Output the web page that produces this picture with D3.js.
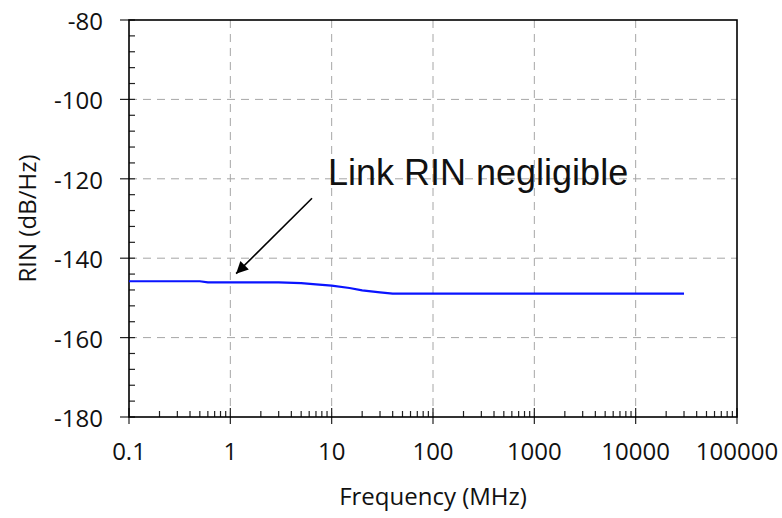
<!DOCTYPE html>
<html>
<head>
<meta charset="utf-8">
<script src="https://cdn.jsdelivr.net/npm/d3@7"></script>
<style>
  body { margin: 0; background: #fff; }
  text { font-family: "Open Sans", "Liberation Sans", sans-serif; fill: #111; }
</style>
</head>
<body>
<div id="chart"></div>
<script>
// data
const freq = [0.1, 0.5, 0.6, 3, 5, 7, 10, 15, 20, 30, 40, 30000];
const rin = [-145.8, -145.8, -146.1, -146.1, -146.3, -146.6, -146.9, -147.5, -148.1, -148.6, -148.9, -148.9];
const xTicks = [0.1, 1, 10, 100, 1000, 10000, 100000];
const yTicks = [-80, -100, -120, -140, -160, -180];
const note = { text: "Link RIN negligible", x: 9.2, y: -121.6, fromX: 6.4, fromY: -124.9, toX: 1.14, toY: -143.9 };

const width = 782;
const height = 518;
const margin = { top: 20, right: 45, bottom: 101, left: 129 };
const chartWidth = width - margin.left - margin.right;
const chartHeight = height - margin.top - margin.bottom;

const svg = d3.select("#chart").append("svg").attr("width", width).attr("height", height);

const xScale = d3.scaleLog().domain([0.1, 100000]).range([0, chartWidth]);
const yScale = d3.scaleLinear().domain([-180, -80]).range([chartHeight, 0]);

svg.append("defs").append("marker")
  .attr("id", "arrow")
  .attr("viewBox", "0 0 10 10")
  .attr("refX", 10).attr("refY", 5)
  .attr("markerWidth", 19).attr("markerHeight", 12)
  .attr("markerUnits", "userSpaceOnUse")
  .attr("orient", "auto")
  .append("path").attr("d", "M0,0L10,5L0,10z").attr("fill", "#000");

const g = svg.append("g").attr("transform", `translate(${margin.left},${margin.top})`);

// grid
g.selectAll("line.vgrid")
  .data(xTicks.slice(1, -1))
  .enter().append("line")
  .attr("class", "vgrid")
  .attr("x1", (d) => xScale(d)).attr("x2", (d) => xScale(d))
  .attr("y1", 0).attr("y2", chartHeight)
  .attr("stroke", "#a6a6a6").attr("stroke-dasharray", "8,6");

g.selectAll("line.hgrid")
  .data(yTicks.slice(1, -1))
  .enter().append("line")
  .attr("class", "hgrid")
  .attr("x1", 0).attr("x2", chartWidth)
  .attr("y1", (d) => yScale(d)).attr("y2", (d) => yScale(d))
  .attr("stroke", "#a6a6a6").attr("stroke-dasharray", "8,6");

// minor ticks
const xMinor = [];
for (let p = -1; p < 5; p++) {
  for (let m = 2; m <= 9; m++) xMinor.push(m * Math.pow(10, p));
}
g.selectAll("line.xminor")
  .data(xMinor)
  .enter().append("line")
  .attr("x1", (d) => xScale(d)).attr("x2", (d) => xScale(d))
  .attr("y1", chartHeight).attr("y2", chartHeight - 6)
  .attr("stroke", "#222").attr("stroke-width", 1.2);

const yMinor = d3.range(-180, -80, 4).filter((d) => d % 20 !== 0);
g.selectAll("line.yminor")
  .data(yMinor)
  .enter().append("line")
  .attr("x1", 0).attr("x2", 6)
  .attr("y1", (d) => yScale(d)).attr("y2", (d) => yScale(d))
  .attr("stroke", "#222").attr("stroke-width", 1.2);

// major ticks
g.selectAll("line.xmajor")
  .data(xTicks)
  .enter().append("line")
  .attr("x1", (d) => xScale(d)).attr("x2", (d) => xScale(d))
  .attr("y1", chartHeight - 9).attr("y2", chartHeight + 7)
  .attr("stroke", "#222").attr("stroke-width", 1.2);

g.selectAll("line.ymajor")
  .data(yTicks)
  .enter().append("line")
  .attr("x1", -9).attr("x2", 6)
  .attr("y1", (d) => yScale(d)).attr("y2", (d) => yScale(d))
  .attr("stroke", "#222").attr("stroke-width", 1.2);

// frame
g.append("rect")
  .attr("width", chartWidth).attr("height", chartHeight)
  .attr("fill", "none").attr("stroke", "#000").attr("stroke-width", 1.6);

// tick labels
g.selectAll("text.xlab")
  .data(xTicks)
  .enter().append("text")
  .attr("x", (d) => xScale(d))
  .attr("y", chartHeight + 43)
  .style("font-size", "24px")
  .style("text-anchor", "middle")
  .text((d) => d3.format("~f")(d));

g.selectAll("text.ylab")
  .data(yTicks)
  .enter().append("text")
  .attr("x", -26)
  .attr("y", (d) => yScale(d) + 10)
  .style("font-size", "24px")
  .style("text-anchor", "end")
  .text((d) => d);

// axis titles
g.append("text")
  .attr("x", chartWidth / 2)
  .attr("y", chartHeight + 88)
  .style("font-size", "24px")
  .style("text-anchor", "middle")
  .text("Frequency (MHz)");

g.append("text")
  .attr("transform", `translate(${-93},${chartHeight / 2}) rotate(-90)`)
  .style("font-size", "24px")
  .style("text-anchor", "middle")
  .text("RIN (dB/Hz)");

// series
const line = d3.line()
  .x((d, i) => xScale(freq[i]))
  .y((d) => yScale(d));

g.append("path")
  .datum(rin)
  .attr("d", line)
  .attr("fill", "none")
  .attr("stroke", "#0a14ff")
  .attr("stroke-width", 2.2);

// annotation
g.append("line")
  .attr("x1", xScale(note.fromX)).attr("y1", yScale(note.fromY))
  .attr("x2", xScale(note.toX)).attr("y2", yScale(note.toY))
  .attr("stroke", "#000").attr("stroke-width", 1.6)
  .attr("marker-end", "url(#arrow)");

g.append("text")
  .attr("x", xScale(note.x))
  .attr("y", yScale(note.y))
  .style("font-family", "'Liberation Sans', Arial, sans-serif")
  .style("font-size", "36px")
  .text(note.text);
</script>
</body>
</html>
